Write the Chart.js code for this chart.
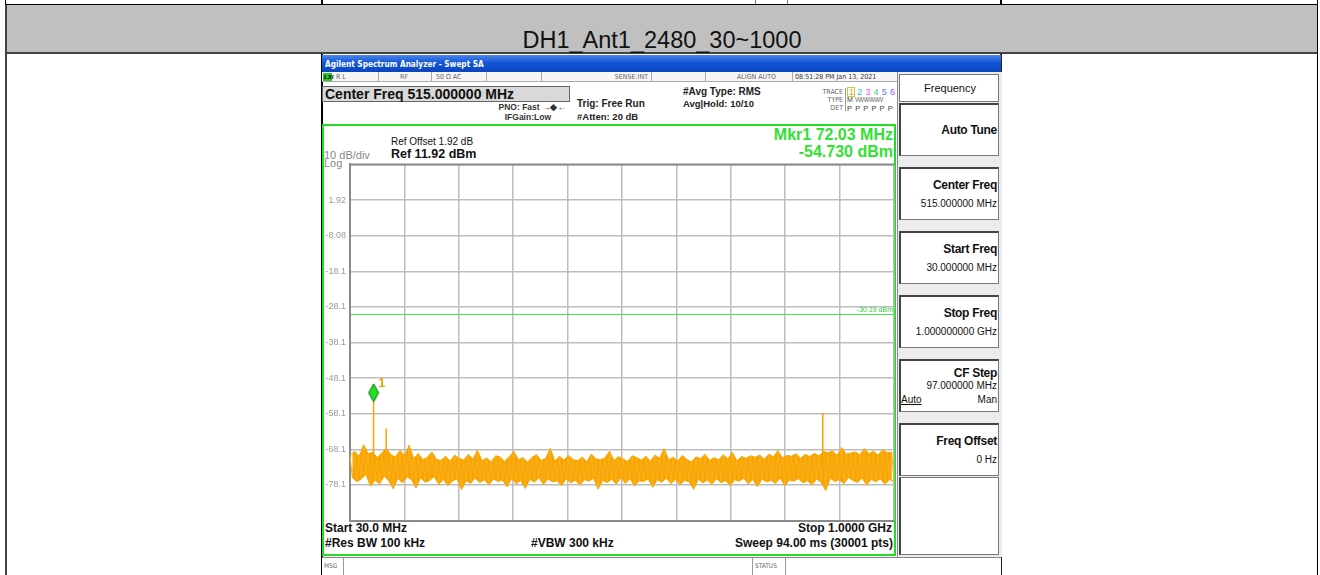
<!DOCTYPE html>
<html>
<head>
<meta charset="utf-8">
<script src="https://cdn.jsdelivr.net/npm/chart.js@4.4.1/dist/chart.umd.min.js"></script>
<style>
body{margin:0;width:1320px;height:575px;overflow:hidden;background:#fff;font-family:Arial,"Liberation Sans",sans-serif;position:relative}
.b{position:absolute;box-sizing:border-box}
.t{position:absolute;white-space:nowrap}
</style>
</head>
<body>
<div id="page"></div>
<canvas id="plot" class="b" width="578" height="375" style="left:323px;top:155px"></canvas>
<script>
// sweep settings
const startFreq = 30;
const stopFreq = 1000;
const refLevel = 11.92;
const bottomLevel = -88.08;
const displayLine = -30.19;

// grid / tick labels
const xGridFreqs = [30, 127, 224, 321, 418, 515, 612, 709, 806, 903, 1000];
const yTickValues = [11.92, 1.92, -8.08, -18.08, -28.08, -38.08, -48.08, -58.08, -68.08, -78.08, -88.08];
const yTickLabels = ['', '1.92', '-8.08', '-18.1', '-28.1', '-38.1', '-48.1', '-58.1', '-68.1', '-78.1', ''];

// trace 1 noise floor (dBm), evenly spread over the sweep
const noiseLevels = [
  -69.8,-75.9,-68.6,-77.2,-70.1,-76.4,-66.8,-75.1,-69.3,-78.4,-68.9,-76.7,-70.4,-77.8,-69.0,-75.6,-67.9,-76.9,-69.6,-79.1,
  -70.2,-76.2,-68.4,-77.5,-69.9,-75.8,-66.9,-76.6,-70.7,-78.9,-69.2,-76.0,-71.0,-77.3,-70.3,-76.8,-68.8,-75.7,-70.9,-77.9,
  -71.2,-76.5,-70.0,-78.2,-71.4,-77.0,-69.7,-76.3,-70.6,-79.4,-71.1,-76.9,-69.5,-77.6,-70.8,-76.1,-68.3,-77.4,-71.3,-76.6,
  -70.5,-78.0,-71.6,-76.4,-69.9,-77.1,-70.2,-76.7,-71.5,-78.6,-70.1,-76.2,-68.7,-77.7,-71.0,-76.8,-70.4,-79.0,-71.7,-76.5,
  -70.3,-77.3,-69.6,-76.0,-71.2,-77.9,-70.6,-76.4,-67.8,-77.2,-71.4,-76.9,-70.0,-78.3,-71.1,-76.3,-69.8,-77.5,-70.9,-76.7,
  -71.3,-78.1,-70.2,-76.6,-71.6,-77.0,-69.4,-76.2,-70.7,-79.2,-71.0,-76.8,-70.5,-77.4,-68.6,-76.5,-71.2,-77.8,-70.1,-76.1,
  -70.8,-77.6,-71.5,-76.3,-69.9,-78.4,-70.4,-76.9,-71.1,-77.1,-70.0,-76.4,-71.4,-78.7,-69.7,-76.6,-70.6,-77.3,-67.9,-76.2,
  -71.0,-77.7,-70.3,-76.5,-71.3,-78.0,-69.8,-76.8,-70.9,-77.2,-71.6,-79.3,-70.2,-76.4,-70.7,-77.5,-69.5,-76.7,-71.2,-77.9,
  -70.4,-76.3,-71.0,-77.4,-69.6,-76.9,-70.8,-78.2,-68.9,-76.6,-71.3,-77.0,-70.1,-76.2,-70.6,-77.8,-69.9,-76.5,-70.3,-78.6,
  -69.7,-76.4,-70.9,-77.2,-69.4,-76.8,-70.2,-77.6,-68.4,-76.1,-70.5,-78.3,-69.8,-76.7,-70.0,-77.0,-69.3,-76.3,-70.6,-77.5,
  -69.5,-76.9,-70.1,-78.0,-69.2,-76.4,-69.9,-77.3,-68.7,-79.6,-69.0,-76.2,-68.5,-77.1,-69.8,-76.6,-67.6,-77.7,-69.4,-76.0,
  -69.1,-76.8,-68.8,-77.4,-69.6,-76.1,-67.9,-78.1,-69.3,-76.5,-68.6,-77.2,-69.7,-76.3,-68.2,-77.9,-69.0,-76.6,-68.9,-77.0
];

// discrete spurs sticking out of the floor
const spurFreqs = [72.03, 94.5, 873.0];
const spurLevels = [-54.73, -62.2, -57.8];
const spurBase = -73;

// marker 1
const markerFreq = 72.03;
const markerLevel = -54.73;

// ---------- page chrome ----------
const page = document.getElementById('page');

function box(x, y, w, h, css) {
    const d = document.createElement('div');
    d.className = 'b';
    d.style.cssText = `left:${x}px;top:${y}px;width:${w}px;height:${h}px;` + (css || '');
    page.appendChild(d);
    return d;
}

function txt(s, x, y, size, css, align) {
    const d = document.createElement('div');
    d.className = 't';
    d.textContent = s;
    let tr = 'translateY(-50%)';
    if (align === 'right') tr += ' translateX(-100%)';
    if (align === 'center') tr += ' translateX(-50%)';
    d.style.cssText = `left:${x}px;top:${y}px;font-size:${size}px;line-height:${Math.round(size * 1.2)}px;transform:${tr};` + (css || '');
    page.appendChild(d);
    return d;
}

// table rows
box(5, 0, 1313, 5, 'border-left:1px solid #000;border-right:1px solid #000;border-bottom:1px solid #000');
box(321, 0, 681, 5, 'border-left:2px solid #000;border-right:2px solid #000;border-bottom:1px solid #000');
box(755, 0, 1, 4, 'background:#777');
box(787, 0, 1, 4, 'background:#777');
box(5, 4, 1313, 50, 'background:#c0c0c0;border:1px solid #000;border-bottom:2px solid #444;border-left:2px solid #444');
txt('DH1_Ant1_2480_30~1000', 662, 40, 23.5, 'color:#111', 'center');
box(5, 53, 1313, 522, 'border-left:2px solid #444;border-right:1px solid #000');

// analyzer window
box(321, 54, 681, 521, 'background:#fff;border-left:2px solid #000;border-right:2px solid #222');
box(322, 55, 679, 17, 'background:linear-gradient(#4a86ea,#1456d6 45%,#0b44be)');
txt('Agilent Spectrum Analyzer - Swept SA', 325, 63.5, 8.2, 'color:#fff;font-weight:bold;font-family:"DejaVu Sans Condensed","DejaVu Sans"');

// status row
box(322, 72, 575, 10, 'background:#f6f6f6;border-bottom:1px solid #aaa');
box(323, 73, 9, 8, 'background:#30c030');
txt('LXI', 324, 77, 6, 'color:#000;font-weight:bold;font-style:italic');
[378, 431, 486, 541, 651, 705, 792].forEach(x => box(x, 72, 1, 10, 'background:#aaa'));
const statusCss = 'color:#666;font-family:"DejaVu Sans Condensed","DejaVu Sans"';
txt('R L', 336, 77, 7, statusCss);
txt('RF', 400, 77, 7, statusCss);
txt('50 Ω    AC', 436, 77, 7, statusCss);
txt('SENSE:INT', 648, 77, 7, statusCss, 'right');
txt('ALIGN AUTO', 776, 77, 7, statusCss, 'right');
txt('08:51:28 PM Jan 13, 2021', 795, 77, 7, 'color:#333;font-family:"DejaVu Sans Condensed","DejaVu Sans"');

// top info
box(322, 86, 248, 16, 'background:#d9d9d9;border:1px solid #666');
txt('Center Freq 515.000000 MHz', 325, 94, 14, 'font-weight:bold;color:#111');
txt('PNO: Fast  \u2192\u25C6\u2190', 566, 107, 8.5, 'font-weight:bold;color:#333', 'right');
txt('IFGain:Low', 551, 117, 8.5, 'font-weight:bold;color:#333', 'right');
txt('Trig: Free Run', 577, 104, 10, 'font-weight:bold;color:#222');
txt('#Atten: 20 dB', 577, 116, 9.5, 'font-weight:bold;color:#222');
txt('#Avg Type: RMS', 683, 92, 10, 'font-weight:bold;color:#222');
txt('Avg|Hold: 10/10', 683, 103, 9.5, 'font-weight:bold;color:#222');
txt('TRACE', 843, 92, 7, statusCss, 'right');
txt('TYPE', 843, 100, 7, statusCss, 'right');
txt('DET', 843, 108, 7, statusCss, 'right');
box(845, 88, 1, 23, 'background:#999');
box(847, 87, 8, 10, 'border:1px solid #e0c040');
const traceColors = ['#f0a000', '#20c0e0', '#ff50d0', '#40c890', '#4a7cff', '#a050ff'];
traceColors.forEach((c, i) => txt(String(i + 1), 849 + i * 8.2, 92, 9, 'color:' + c));
txt('M', 847, 100, 7, 'color:#444');
txt('WWWWW', 855, 100, 7, 'color:#777;letter-spacing:-1.2px');
txt('P P P P P P', 847, 108, 7.5, 'color:#444;letter-spacing:0.6px');

// green frame
box(322, 124, 574, 432, 'border:2px solid #22dd22');
txt('Ref Offset 1.92 dB', 391, 142, 10, 'color:#111');
txt('Ref 11.92 dBm', 391, 154, 12.5, 'font-weight:bold;color:#111');
txt('10 dB/div', 324, 155, 11, 'color:#888');
txt('Log', 324, 163, 11, 'color:#888');
txt('Mkr1 72.03 MHz', 893, 134, 16, 'font-weight:bold;color:#33e033', 'right');
txt('-54.730 dBm', 893, 151, 16, 'font-weight:bold;color:#33e033', 'right');
txt('Start 30.0 MHz', 325, 528, 12, 'font-weight:bold;color:#111');
txt('#Res BW 100 kHz', 325, 543, 12, 'font-weight:bold;color:#111');
txt('#VBW 300 kHz', 531, 543, 12, 'font-weight:bold;color:#111');
txt('Stop 1.0000 GHz', 892, 528, 12, 'font-weight:bold;color:#111', 'right');
txt('Sweep  94.00 ms (30001 pts)', 893, 543, 12, 'font-weight:bold;color:#111', 'right');

// message bar
box(322, 557, 679, 18, 'background:#fff;border-top:1px solid #888');
box(343, 558, 1, 17, 'background:#999');
box(752, 558, 1, 17, 'background:#999');
box(785, 558, 1, 17, 'background:#999');
txt('MSG', 324, 566, 6.5, statusCss);
txt('STATUS', 755, 566, 6.5, statusCss);

// soft keys
box(897, 72, 105, 485, 'background:#ececec;border-left:1px solid #888');
box(899, 74, 100, 28, 'background:#fff;border:1px solid #777');
txt('Frequency', 950, 88, 11, 'color:#111', 'center');
const keys = [
    { top: 103, label: 'Auto Tune', value: '' },
    { top: 167, label: 'Center Freq', value: '515.000000 MHz' },
    { top: 231, label: 'Start Freq', value: '30.000000 MHz' },
    { top: 295, label: 'Stop Freq', value: '1.000000000 GHz' },
    { top: 359, label: 'CF Step', value: '97.000000 MHz' },
    { top: 423, label: 'Freq Offset', value: '0 Hz' }
];
keys.forEach(k => {
    box(899, k.top, 100, 53, 'background:#fff;border:1px solid #777;border-left:2px solid #444;border-top:2px solid #444');
    if (k.label === 'CF Step') {
        txt(k.label, 997, k.top + 14, 12, 'font-weight:bold;color:#111;letter-spacing:-0.3px', 'right');
        txt(k.value, 997, k.top + 27, 10, 'color:#111', 'right');
    } else if (k.value) {
        txt(k.label, 997, k.top + 18, 12, 'font-weight:bold;color:#111;letter-spacing:-0.3px', 'right');
        txt(k.value, 997, k.top + 37, 10, 'color:#111', 'right');
    } else {
        txt(k.label, 997, k.top + 27, 12, 'font-weight:bold;color:#111;letter-spacing:-0.3px', 'right');
    }
});
txt('Auto', 901, 400, 10, 'color:#111;text-decoration:underline');
txt('Man', 997, 400, 10, 'color:#111', 'right');
box(899, 477, 100, 78, 'background:#fff;border:1px solid #777;border-left:2px solid #444');

// ---------- chart ----------
const freqAt = i => startFreq + i * (stopFreq - startFreq) / (noiseLevels.length - 1);
const noisePoints = noiseLevels.map((v, i) => ({ x: freqAt(i), y: v }));
// peaks and troughs of the floor, used to fill the band between them
const upperPoints = noisePoints.filter((p, i) => i % 2 === 0);
const lowerPoints = noisePoints.filter((p, i) => i % 2 === 1);

const spurPoints = [];
spurFreqs.forEach((f, i) => {
    spurPoints.push({ x: f, y: spurBase });
    spurPoints.push({ x: f, y: spurLevels[i] });
    spurPoints.push({ x: f, y: null });
});

// diamond marker, bottom tip sits on the marker level
const diamond = document.createElement('canvas');
diamond.width = 12;
diamond.height = 40;
const dctx = diamond.getContext('2d');
dctx.beginPath();
dctx.moveTo(6, 2);
dctx.lineTo(11, 11);
dctx.lineTo(6, 20);
dctx.lineTo(1, 11);
dctx.closePath();
dctx.fillStyle = '#22e022';
dctx.fill();
dctx.strokeStyle = '#0b6b0b';
dctx.lineWidth = 1;
dctx.stroke();

const extras = {
    id: 'extras',
    beforeDatasetsDraw(chart) {
        const { ctx, chartArea: a } = chart;
        ctx.save();
        ctx.strokeStyle = '#8a8a8a';
        ctx.lineWidth = 2;
        ctx.beginPath();
        ctx.moveTo(a.left, a.top);
        ctx.lineTo(a.right, a.top);
        ctx.stroke();
        ctx.restore();
    },
    afterDatasetsDraw(chart) {
        const { ctx, chartArea: a, scales } = chart;
        ctx.save();
        ctx.font = '7px Arial';
        ctx.fillStyle = '#33d033';
        ctx.textAlign = 'right';
        ctx.textBaseline = 'bottom';
        ctx.fillText(displayLine.toFixed(2) + ' dBm', a.right - 1, scales.y.getPixelForValue(displayLine) - 1);
        ctx.font = 'bold 12px Arial';
        ctx.fillStyle = '#f0a000';
        ctx.textAlign = 'left';
        ctx.fillText('1', scales.x.getPixelForValue(markerFreq) + 5, scales.y.getPixelForValue(markerLevel) - 12);
        ctx.restore();
    }
};

const orange = '#f8a500';

new Chart(document.getElementById('plot'), {
    type: 'line',
    data: {
        datasets: [
            {
                data: [{ x: markerFreq, y: markerLevel }],
                showLine: false,
                pointStyle: diamond,
                pointRadius: 6
            },
            {
                data: [{ x: startFreq, y: displayLine }, { x: stopFreq, y: displayLine }],
                borderColor: '#44dd44',
                borderWidth: 1,
                pointRadius: 0
            },
            {
                data: spurPoints,
                borderColor: orange,
                borderWidth: 1.5,
                pointRadius: 0,
                spanGaps: false
            },
            {
                data: noisePoints,
                borderColor: '#f9b020',
                borderWidth: 1,
                pointRadius: 0
            },
            {
                data: upperPoints,
                borderColor: orange,
                borderWidth: 1,
                pointRadius: 0,
                fill: false
            },
            {
                data: lowerPoints,
                borderColor: orange,
                borderWidth: 1,
                pointRadius: 0,
                backgroundColor: orange,
                fill: 4
            }
        ]
    },
    options: {
        responsive: false,
        animation: false,
        events: [],
        layout: { padding: { top: 0, right: 2, bottom: 1, left: 0 } },
        plugins: { legend: { display: false }, tooltip: { enabled: false } },
        scales: {
            x: {
                type: 'linear',
                min: startFreq,
                max: stopFreq,
                afterBuildTicks: s => { s.ticks = xGridFreqs.map(v => ({ value: v })); },
                afterFit: s => { s.height = 0; },
                ticks: { display: false },
                grid: { color: '#bdbdbd', lineWidth: 1.5, drawTicks: false },
                border: { color: '#8a8a8a', width: 2 }
            },
            y: {
                min: bottomLevel,
                max: refLevel,
                afterBuildTicks: s => { s.ticks = yTickValues.map(v => ({ value: v })); },
                afterFit: s => { s.width = 27; },
                ticks: {
                    callback: (v, i) => yTickLabels[i],
                    color: '#999',
                    font: { size: 9, family: 'Arial' },
                    padding: 4
                },
                grid: { color: '#bdbdbd', lineWidth: 1.5, drawTicks: false },
                border: { color: '#8a8a8a', width: 2 }
            }
        }
    },
    plugins: [extras]
});
</script>
</body>
</html>
